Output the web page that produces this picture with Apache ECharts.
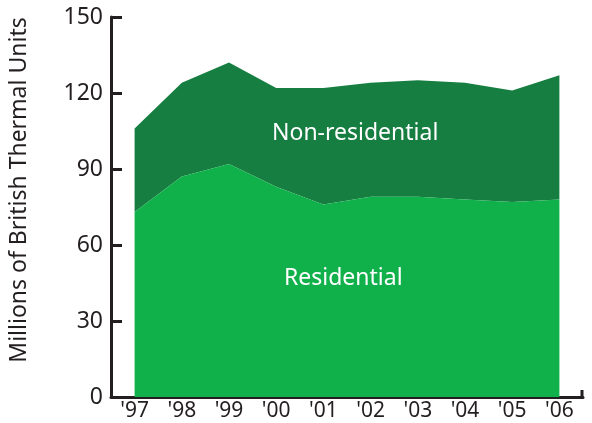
<!DOCTYPE html>
<html>
<head>
<meta charset="utf-8">
<script src="https://cdn.jsdelivr.net/npm/echarts@6/dist/echarts.min.js"></script>
<style>
  html, body { margin: 0; padding: 0; background: #fff; }
  #chart { width: 592px; height: 423px; }
</style>
</head>
<body>
<div id="chart"></div>
<script>
var years = ["'97", "'98", "'99", "'00", "'01", "'02", "'03", "'04", "'05", "'06"];
var residential = [73, 87, 92, 83, 76, 79, 79, 78, 77, 78];
var nonResidential = [33, 37, 40, 39, 46, 45, 46, 46, 44, 49];
var yTicks = [0, 30, 60, 90, 120, 150];

var font = 'Noto Sans';
var ink = '#231f20';

var myChart = echarts.init(document.getElementById('chart'));

var option = {
    animation: false,
    textStyle: { fontFamily: font },
    grid: { left: 108, right: 9, top: 17, bottom: 26 },
    xAxis: {
        type: 'category',
        data: years,
        boundaryGap: true,
        axisLine: { lineStyle: { color: ink, width: 3 } },
        axisTick: { show: false },
        axisLabel: { color: ink, fontSize: 21, margin: 4, fontFamily: font }
    },
    yAxis: {
        type: 'value',
        min: yTicks[0],
        max: yTicks[yTicks.length - 1],
        interval: 30,
        name: 'Millions of British Thermal Units',
        nameLocation: 'middle',
        nameGap: 80,
        nameTextStyle: { color: ink, fontSize: 23, fontFamily: font, padding: [0, 0, 0, 34] },
        splitLine: { show: false },
        axisLine: { show: true, lineStyle: { color: ink, width: 3 } },
        axisTick: { show: true, inside: true, length: 11, lineStyle: { color: ink, width: 3 } },
        axisLabel: { color: ink, fontSize: 23, margin: 8, fontFamily: font }
    },
    graphic: [
        {
            type: 'line',
            z: 100,
            shape: { x1: 582, y1: 390, x2: 582, y2: 397 },
            style: { stroke: ink, lineWidth: 3 }
        },
        {
            type: 'text',
            z: 100,
            left: 272, top: 122,
            style: { text: 'Non-residential', fill: '#fff', fontSize: 23, fontFamily: font }
        },
        {
            type: 'text',
            z: 100,
            left: 284, top: 267,
            style: { text: 'Residential', fill: '#fff', fontSize: 23, fontFamily: font }
        }
    ],
    series: [
        {
            name: 'Residential',
            type: 'line',
            stack: 'total',
            data: residential,
            symbol: 'none',
            lineStyle: { width: 0 },
            areaStyle: { color: '#10b04b', opacity: 1 },
            z: 3
        },
        {
            name: 'Non-residential',
            type: 'line',
            stack: 'total',
            data: nonResidential,
            symbol: 'none',
            lineStyle: { width: 0 },
            areaStyle: { color: '#167e40', opacity: 1 },
            z: 2
        }
    ]
};

myChart.setOption(option);
window.addEventListener('resize', function () {
    myChart.resize();
});
</script>
</body>
</html>
